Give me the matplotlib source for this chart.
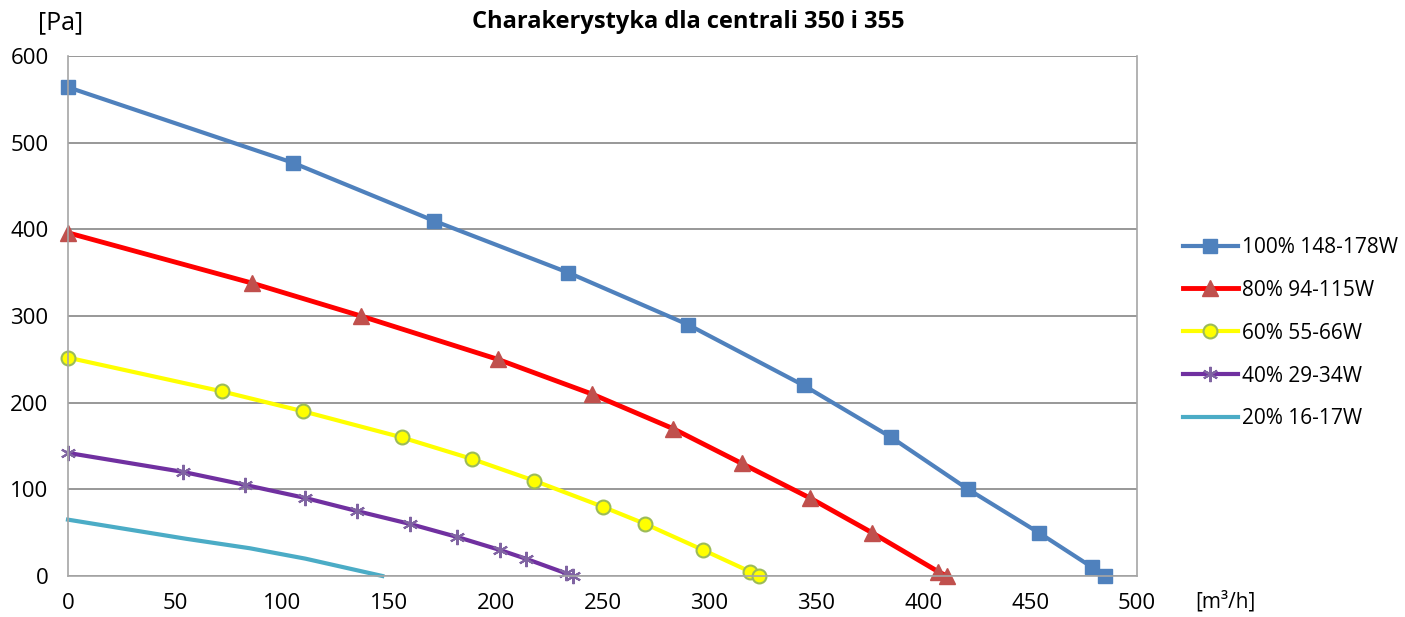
import matplotlib.pyplot as plt

plt.rcParams['font.family'] = ['Open Sans', 'DejaVu Sans']

# flow [m3/h] vs pressure [Pa]
q100 = [0, 105, 171, 234, 290, 344, 385, 421, 454, 479, 485]
p100 = [564, 477, 410, 350, 290, 220, 160, 100, 50, 10, 0]

q80 = [0, 86, 137, 201, 245, 283, 315, 347, 376, 407, 411]
p80 = [396, 338, 300, 250, 210, 170, 130, 90, 50, 5, 0]

q60 = [0, 72, 110, 156, 189, 218, 250, 270, 297, 319, 323]
p60 = [252, 213, 190, 160, 135, 110, 80, 60, 30, 5, 0]

q40 = [0, 54, 83, 111, 135, 160, 182, 202, 214, 233, 236]
p40 = [142, 120, 105, 90, 75, 60, 45, 30, 20, 3, 0]

q20 = [0, 55, 85, 111, 147]
p20 = [65, 43, 32, 20, 0]

labels = ['100% 148-178W', '80% 94-115W', '60% 55-66W', '40% 29-34W', '20% 16-17W']

fig = plt.figure(figsize=(14.05, 6.17), dpi=100)
ax = fig.add_axes([0.0484, 0.0665, 0.7609, 0.8427])

ax.plot(q100, p100, color='#4F81BD', lw=3, marker='s', ms=10,
        mfc='#4F81BD', mec='#4F81BD', label=labels[0], clip_on=False)
ax.plot(q80, p80, color='#FF0000', lw=3.5, marker='^', ms=11,
        mfc='#C0504D', mec='#C0504D', label=labels[1], clip_on=False)
ax.plot(q60, p60, color='#FFFF00', lw=3, marker='o', ms=10,
        mfc='#FFFF00', mec='#9BBB59', mew=1.5, label=labels[2], clip_on=False)
ax.plot(q40, p40, color='#7030A0', lw=3, marker=(6, 2, 0), ms=11,
        mfc='#8064A2', mec='#8064A2', mew=1.5, label=labels[3], clip_on=False)
ax.plot(q20, p20, color='#4BACC6', lw=3, label=labels[4], clip_on=False)

ax.set_xlim(0, 500)
ax.set_ylim(0, 600)
ax.set_xticks(range(0, 501, 50))
ax.set_yticks(range(0, 601, 100))
ax.tick_params(length=0, labelsize=16)
ax.tick_params(axis='y', pad=14)
ax.tick_params(axis='x', pad=12)
ax.yaxis.grid(True, color='#868686', lw=1.2)
ax.set_axisbelow(True)
for s in ['left', 'bottom', 'right']:
    ax.spines[s].set_color('#A6A6A6')
    ax.spines[s].set_linewidth(1.2)
ax.spines['top'].set_visible(False)

fig.text(0.49, 0.964, 'Charakerystyka dla centrali 350 i 355', ha='center', va='center',
         fontsize=17, fontweight='bold')
fig.text(0.043, 0.963, '[Pa]', ha='center', va='center', fontsize=18)
fig.text(0.8725, 0.024, '[m³/h]', ha='center', va='center', fontsize=15)

leg = ax.legend(loc='center left', bbox_to_anchor=(1.0355, 0.467), frameon=False,
                borderaxespad=0, fontsize=15, handlelength=2.6, labelspacing=1.05,
                handletextpad=0.22)

fig.savefig('out.png', dpi=100)
